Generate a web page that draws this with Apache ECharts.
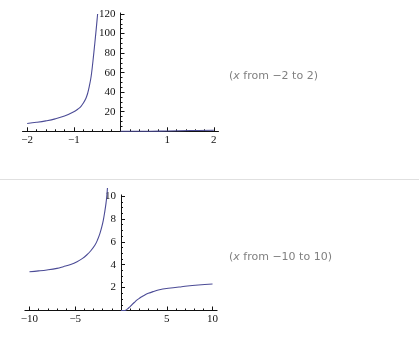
<!DOCTYPE html>
<html>
<head>
<meta charset="utf-8">
<script src="https://cdn.jsdelivr.net/npm/echarts@6/dist/echarts.min.js"></script>
<style>
html,body{margin:0;padding:0;background:#fff;}
#c{width:419px;height:350px;}
</style>
</head>
<body>
<div id="c"></div>
<script>
// ---- data ----
const topLeftX  = [-2.0, -1.8, -1.6, -1.4, -1.2, -1.0, -0.9, -0.85, -0.8, -0.74, -0.7, -0.67, -0.64, -0.62, -0.6, -0.58, -0.56, -0.54, -0.52, -0.5, -0.49];
const topLeftY  = [8.0, 9.2, 10.7, 12.7, 15.6, 20.0, 23.2, 25.3, 28.6, 33.9, 39.5, 45.8, 53, 59.4, 67.5, 76.4, 85.6, 95, 104.8, 115, 120];
const topRightX = [0, 0.5, 1.0, 1.5, 2.0];
const topRightY = [0, 0.02, 0.35, 0.75, 1.05];

const botLeftX  = [-10, -9, -8.1, -7, -6.3, -5.5, -4.8, -4.2, -3.75, -3.3, -2.84, -2.55, -2.3, -2.1, -1.93, -1.78, -1.64, -1.55, -1.48];
const botLeftY  = [3.39, 3.46, 3.54, 3.68, 3.83, 4.02, 4.26, 4.55, 4.85, 5.22, 5.72, 6.2, 6.74, 7.3, 7.9, 8.6, 9.36, 10.0, 10.7];
const botRightX = [0, 0.44, 0.62, 0.8, 1.0, 1.17, 1.45, 1.72, 2.0, 2.26, 2.6, 2.98, 3.5, 4.08, 5.17, 6.63, 8.45, 10.0];
const botRightY = [0, 0.0, 0.08, 0.2, 0.34, 0.48, 0.7, 0.9, 1.06, 1.2, 1.36, 1.5, 1.65, 1.79, 1.94, 2.08, 2.23, 2.31];

const topXTickLabels = [-2, -1, 1, 2];
const topXTicks = [-2, -1, 0, 1, 2];
const topYTickLabels = [20, 40, 60, 80, 100, 120];
const topYTicks = [0, 20, 40, 60, 80, 100, 120];
const botXTickLabels = [-10, -5, 5, 10];
const botXTicks = [-10, -5, 0, 5, 10];
const botYTickLabels = [2, 4, 6, 8, 10];
const botYTicks = [0, 2, 4, 6, 8, 10];

const topCaption = '({i|x} from \u22122 to 2)';
const botCaption = '({i|x} from \u221210 to 10)';

// ---- build ----
const pairs = (xs, ys) => xs.map((x, i) => [x, ys[i]]);
const fmt = v => (v < 0 ? '\u2212' + Math.abs(v) : String(v));
const curveColor = '#4b4b96';
const axisColor = '#111';

const grids = [
  { left: 22.5, top: 13, width: 196, height: 118.3, xmin: -2.1, xmax: 2.1 },
  { left: 24.9, top: 194.9, width: 192.2, height: 115.6, xmin: -10.5, xmax: 10.5 }
];

function xAxisCfg(gi, tickVals, labelVals, minorSplit) {
  const g = grids[gi];
  return {
    type: 'value', gridIndex: gi, min: g.xmin, max: g.xmax,
    axisLine: { show: true, onZero: true, lineStyle: { color: axisColor, width: 1 } },
    axisTick: { show: true, inside: true, length: 4, customValues: tickVals, lineStyle: { color: axisColor } },
    minorTick: { show: true, splitNumber: minorSplit, length: 2, lineStyle: { color: axisColor } },
    axisLabel: {
      show: true, margin: 3, customValues: labelVals,
      fontFamily: 'Liberation Serif', fontSize: 11, color: axisColor,
      formatter: v => (labelVals.indexOf(v) >= 0 ? fmt(v) : '')
    },
    splitLine: { show: false }, minorSplitLine: { show: false }
  };
}
function yAxisCfg(gi, min, max, tickVals, labelVals, minorSplit) {
  const g = grids[gi];
  // place the vertical axis where x = 0 (inside the grid)
  const zeroShift = g.width * (0 - g.xmin) / (g.xmax - g.xmin);
  return {
    type: 'value', gridIndex: gi, min: min, max: max, offset: -zeroShift,
    axisLine: { show: true, onZero: false, lineStyle: { color: axisColor, width: 1 } },
    axisTick: { show: true, inside: true, length: 4, customValues: tickVals, lineStyle: { color: axisColor } },
    minorTick: { show: true, splitNumber: minorSplit, length: 2, lineStyle: { color: axisColor } },
    axisLabel: {
      show: true, margin: 5, customValues: labelVals,
      fontFamily: 'Liberation Serif', fontSize: 11, color: axisColor,
      formatter: v => (labelVals.indexOf(v) >= 0 ? fmt(v) : '')
    },
    splitLine: { show: false }, minorSplitLine: { show: false }
  };
}
function lineSeries(xi, data) {
  return {
    type: 'line', xAxisIndex: xi, yAxisIndex: xi, data: data,
    showSymbol: false, smooth: 0.4, clip: false,
    lineStyle: { color: curveColor, width: 1.1 }, silent: true, animation: false
  };
}

const capStyle = {
  fontFamily: 'DejaVu Sans', fontSize: 11, color: '#808080', fontWeight: 'normal',
  rich: { i: { fontFamily: 'DejaVu Sans', fontSize: 11, color: '#808080', fontStyle: 'italic' } }
};

const chart = echarts.init(document.getElementById('c'), null, { renderer: 'canvas' });
chart.setOption({
  animation: false,
  backgroundColor: '#fff',
  title: [
    { text: topCaption, left: 229, top: 71, padding: 0, textStyle: capStyle },
    { text: botCaption, left: 229, top: 252, padding: 0, textStyle: capStyle }
  ],
  grid: grids.map(g => ({ left: g.left, top: g.top, width: g.width, height: g.height, containLabel: false })),
  xAxis: [
    xAxisCfg(0, topXTicks, topXTickLabels, 5),
    xAxisCfg(1, botXTicks, botXTickLabels, 5)
  ],
  yAxis: [
    yAxisCfg(0, 0, 121, topYTicks, topYTickLabels, 4),
    yAxisCfg(1, 0, 10.1, botYTicks, botYTickLabels, 4)
  ],
  series: [
    lineSeries(0, pairs(topLeftX, topLeftY)),
    lineSeries(0, pairs(topRightX, topRightY)),
    lineSeries(1, pairs(botLeftX, botLeftY)),
    lineSeries(1, pairs(botRightX, botRightY))
  ],
  graphic: [
    { type: 'line', shape: { x1: 0, y1: 179.5, x2: 419, y2: 179.5 }, style: { stroke: '#e0e0e0', lineWidth: 1 }, silent: true }
  ]
});
</script>
</body>
</html>
